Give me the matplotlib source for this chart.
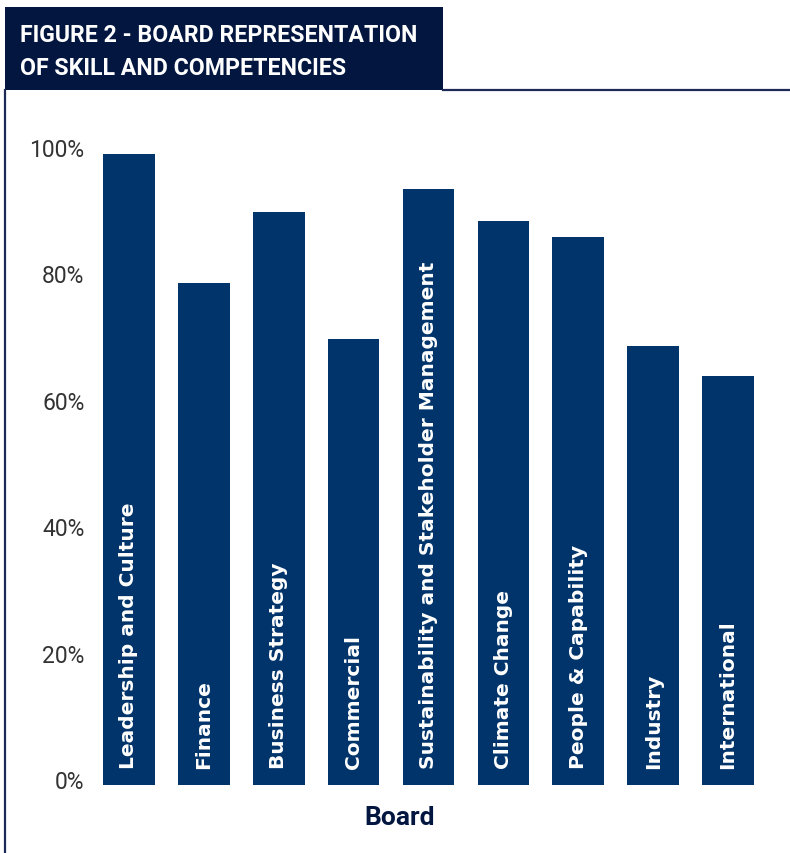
import matplotlib
matplotlib.use('Agg')
import matplotlib.pyplot as plt
from matplotlib.patches import Rectangle
from matplotlib.lines import Line2D
from matplotlib.transforms import ScaledTranslation
from matplotlib.ticker import FuncFormatter

# --------------------------------------------------------------------------------------
# Data

skills    = ['Leadership and Culture', 'Finance', 'Business Strategy', 'Commercial',
             'Sustainability and Stakeholder Management', 'Climate Change',
             'People & Capability', 'Industry', 'International']
shares    = [0.998, 0.794, 0.907, 0.706, 0.943, 0.892, 0.867, 0.695, 0.647]
yticks    = [0, 0.2, 0.4, 0.6, 0.8, 1.0]

title     = 'FIGURE 2 - BOARD REPRESENTATION\nOF SKILL AND COMPETENCIES'
xlabel    = 'Board'

# --------------------------------------------------------------------------------------
# Style

barcol    = '#01346A'
navy      = '#021640'
framecol  = '#1C2A55'
tickcol   = '#333333'

W, H = 790, 854
fig = plt.figure(figsize=(W / 100, H / 100), dpi=100)

def px(x, y):
    # pixel from top-left -> figure fraction
    return x / W, 1 - y / H

# --------------------------------------------------------------------------------------
# Header box and frame

fig.patches.append(Rectangle(px(5, 91), 438 / W, 83 / H, transform=fig.transFigure,
                             facecolor=navy, edgecolor='none', zorder=0))
fig.lines.append(Line2D([443 / W, 1], [1 - 91 / H, 1 - 91 / H], transform=fig.transFigure,
                        color=framecol, linewidth=1.6))
fig.lines.append(Line2D([5 / W, 5 / W], [1 - 91 / H, 0], transform=fig.transFigure,
                        color=framecol, linewidth=1.6))

fig.text(20 / W, 1 - 52 / H, title, color='white', fontsize=16.7, fontweight='bold',
         family=['Roboto', 'DejaVu Sans'], ha='left', va='center',
         linespacing=1.6)

# --------------------------------------------------------------------------------------
# Chart

left, right = 91.5, 765.5
top, bottom = 154, 786
ax = fig.add_axes([left / W, 1 - bottom / H, (right - left) / W, (bottom - top) / H])

x = list(range(len(skills)))
ax.bar(x, shares, width=0.69, color=barcol, zorder=2)

for i, name in enumerate(skills):
    ax.annotate(name, (i, 0), xytext=(0, 12), textcoords='offset points',
                rotation=90, ha='center', va='bottom', color='white',
                fontsize=14.5, fontweight='bold', zorder=3)

ax.set_xlim(-0.5, len(skills) - 0.5)
ax.set_ylim(0, 1.0)
ax.set_xticks([])
ax.set_yticks(yticks)
ax.yaxis.set_major_formatter(FuncFormatter(lambda v, pos: '%d%%' % round(v * 100)))
ax.tick_params(axis='y', length=0, pad=5, labelsize=16.5, labelcolor=tickcol)
for lab in ax.get_yticklabels():
    lab.set_family(['Roboto', 'DejaVu Sans'])
    lab.set_fontweight('normal')
    lab.set_transform(lab.get_transform() + ScaledTranslation(0, 6 / 100, fig.dpi_scale_trans))

for s in ax.spines.values():
    s.set_visible(False)

fig.text(400 / W, 1 - 818 / H, xlabel, color=navy, fontsize=19, fontweight='bold',
         family=['Roboto', 'DejaVu Sans'], ha='center', va='center')

fig.savefig('out.png', dpi=100)
